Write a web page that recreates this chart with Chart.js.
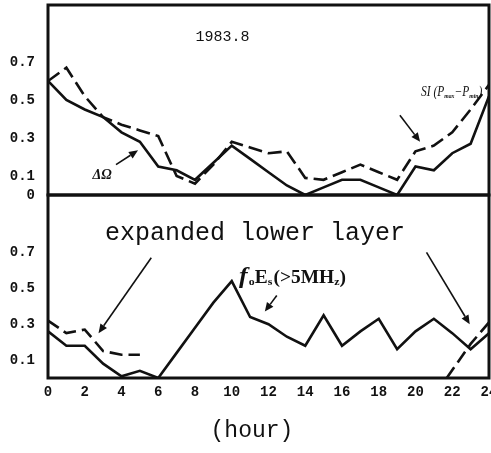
<!DOCTYPE html>
<html><head><meta charset="utf-8">
<script src="https://cdn.jsdelivr.net/npm/chart.js@4/dist/chart.umd.min.js"></script>
<style>
html,body{margin:0;padding:0;background:#fff;}
#wrap{position:relative;width:491px;height:453px;overflow:hidden;}
canvas{position:absolute;left:0;top:0;}
</style></head><body>
<div id="wrap"><canvas id="cTop" width="491" height="453"></canvas><canvas id="cBot" width="491" height="453"></canvas></div>
<script>
// ---- data ----
const hours = [0,1,2,3,4,5,6,7,8,9,10,11,12,13,14,15,16,17,18,19,20,21,22,23,24];
const deltaOmega = [0.60,0.50,0.45,0.41,0.33,0.28,0.15,0.13,0.08,0.17,0.26,0.19,0.12,0.05,0.00,0.04,0.08,0.08,0.04,0.00,0.15,0.13,0.22,0.27,0.52];
const siPmaxPmin = [0.60,0.67,0.52,0.41,0.37,0.34,0.31,0.10,0.06,0.16,0.28,0.25,0.22,0.23,0.09,0.08,0.12,0.16,0.12,0.08,0.23,0.26,0.33,0.45,0.58];
const foEs = [0.26,0.18,0.18,0.08,0.01,0.04,0.00,0.14,0.28,0.42,0.54,0.34,0.30,0.23,0.18,0.35,0.18,0.26,0.33,0.16,0.26,0.33,0.25,0.16,0.25];
const lowerLeftHours = [0,1,2,3,4,5];
const lowerLeftVals = [0.32,0.25,0.27,0.15,0.13,0.13];
const lowerRightHours = [21.7,23,24];
const lowerRightVals = [0.00,0.19,0.31];
const xTickValues = [0,2,4,6,8,10,12,14,16,18,20,22,24];
const topYTicks = [0,0.1,0.3,0.5,0.7];
const botYTicks = [0.1,0.3,0.5,0.7];

const pts = (xs, ys) => xs.map((x,i)=>({x:x, y:ys[i]}));
const INK = '#111';

function fixY(s){ s.width = 48; s.paddingTop = 0; s.paddingBottom = 0; }
function fixXTop(s){ s.height = 0; s.paddingLeft = 0; s.paddingRight = 0; }
function fixXBot(s){ s.height = 75; s.paddingLeft = 0; s.paddingRight = 0; }

const frame = {
  id:'frame',
  afterDraw(chart){
    const {ctx, chartArea:a} = chart;
    ctx.save(); ctx.strokeStyle = INK; ctx.lineWidth = 3;
    ctx.strokeRect(a.left, a.top, a.right-a.left, a.bottom-a.top);
    ctx.restore();
  }
};

function arrow(ctx, x1,y1,x2,y2){
  ctx.save(); ctx.strokeStyle=INK; ctx.fillStyle=INK; ctx.lineWidth=1.6;
  const ang=Math.atan2(y2-y1,x2-x1), L=9, W=4;
  const bx=x2-L*Math.cos(ang), by=y2-L*Math.sin(ang);
  ctx.beginPath(); ctx.moveTo(x1,y1); ctx.lineTo(bx,by); ctx.stroke();
  ctx.beginPath(); ctx.moveTo(x2,y2);
  ctx.lineTo(bx+W*Math.sin(ang), by-W*Math.cos(ang));
  ctx.lineTo(bx-W*Math.sin(ang), by+W*Math.cos(ang));
  ctx.closePath(); ctx.fill(); ctx.restore();
}
function seq(ctx, x, y, parts, sx){
  sx = sx || 1;
  ctx.save(); ctx.translate(x, y); ctx.scale(sx, 1);
  let cx = 0;
  for (const p of parts){
    ctx.font = p.f;
    ctx.fillText(p.t, cx, (p.dy||0));
    cx += ctx.measureText(p.t).width + (p.sp||0);
  }
  ctx.restore();
}

const topNotes = {
  id:'topNotes',
  afterDraw(chart){
    const {ctx} = chart, X = v=>chart.scales.x.getPixelForValue(v), Y = v=>chart.scales.y.getPixelForValue(v);
    ctx.save(); ctx.fillStyle = INK;
    ctx.textAlign='center'; ctx.textBaseline='middle';
    ctx.font = '15px "Liberation Mono"';
    ctx.fillText('1983.8', X(9.5), Y(0.83));
    ctx.font = 'italic bold 14px "Liberation Serif"';
    ctx.fillText('ΔΩ', X(2.95), Y(0.105));
    arrow(ctx, X(3.7), Y(0.16), X(4.9), Y(0.235));
    ctx.textAlign='left'; ctx.textBaseline='alphabetic';
    seq(ctx, X(20.3), Y(0.52), [
      {t:'SI (P', f:'italic 14px "Liberation Serif"'},
      {t:'max', f:'italic bold 7px "Liberation Serif"', dy:2},
      {t:'−P', f:'italic 14px "Liberation Serif"'},
      {t:'min', f:'italic bold 7px "Liberation Serif"', dy:2},
      {t:')', f:'italic 14px "Liberation Serif"'}
    ], 0.82);
    arrow(ctx, X(19.15), Y(0.42), X(20.25), Y(0.28));
    ctx.restore();
  }
};

const botNotes = {
  id:'botNotes',
  afterDraw(chart){
    const {ctx} = chart, X = v=>chart.scales.x.getPixelForValue(v), Y = v=>chart.scales.y.getPixelForValue(v);
    ctx.save(); ctx.fillStyle = INK;
    ctx.textAlign='left'; ctx.textBaseline='alphabetic';
    ctx.font = '25px "Liberation Mono"';
    ctx.fillText('expanded lower layer', X(3.1), Y(0.77));
    arrow(ctx, X(5.62), Y(0.67), X(2.75), Y(0.25));
    arrow(ctx, X(20.6), Y(0.70), X(22.95), Y(0.30));
    seq(ctx, X(10.4), Y(0.53), [
      {t:'f', f:'italic bold 24px "Liberation Serif"', sp:1},
      {t:'o', f:'bold 11px "Liberation Serif"', dy:2},
      {t:'E', f:'bold 18px "Liberation Serif"'},
      {t:'s', f:'bold 11px "Liberation Serif"', dy:2, sp:1},
      {t:'(>5MH', f:'bold 18px "Liberation Serif"'},
      {t:'z', f:'bold 11px "Liberation Serif"', dy:2},
      {t:')', f:'bold 18px "Liberation Serif"'}
    ], 1.08);
    arrow(ctx, X(12.45), Y(0.46), X(11.8), Y(0.37));
    ctx.textAlign='center'; ctx.textBaseline='middle';
    ctx.font = '23px "Liberation Mono"';
    ctx.fillText('(hour)', X(11.1), Y(-0.295));
    ctx.restore();
  }
};

const tickFont = {family:'"Liberation Mono"', size:14, weight:'bold'};
const yFmt = v => v===0 ? '0' : v.toFixed(1);
const lineDs = (data, dash) => ({data, borderColor:INK, borderWidth:2.6, borderDash:dash, pointRadius:0, tension:0, fill:false});

Chart.defaults.animation = false;

new Chart(document.getElementById('cTop'), {
  type:'line',
  data:{datasets:[ lineDs(pts(hours, deltaOmega), []), lineDs(pts(hours, siPmaxPmin), [14,6]) ]},
  options:{
    responsive:false, animation:false,
    layout:{padding:{top:5,right:2,left:0,bottom:258}},
    plugins:{legend:{display:false}, tooltip:{enabled:false}},
    scales:{
      x:{type:'linear', min:0, max:24, afterBuildTicks:s=>{s.ticks=xTickValues.map(v=>({value:v}));},
         ticks:{display:false}, grid:{display:false}, border:{display:false}, afterFit:fixXTop},
      y:{min:0, max:1.0, afterBuildTicks:s=>{s.ticks=topYTicks.map(v=>({value:v}));},
         ticks:{font:tickFont, color:INK, padding:5, callback:yFmt}, grid:{display:false}, border:{display:false}, afterFit:fixY}
    }
  },
  plugins:[frame, topNotes]
});

new Chart(document.getElementById('cBot'), {
  type:'line',
  data:{datasets:[ lineDs(pts(hours, foEs), []), lineDs(pts(lowerLeftHours, lowerLeftVals), [13,6]), lineDs(pts(lowerRightHours, lowerRightVals), [13,6]) ]},
  options:{
    responsive:false, animation:false,
    layout:{padding:{top:195,right:2,left:0,bottom:0}},
    plugins:{legend:{display:false}, tooltip:{enabled:false}},
    scales:{
      x:{type:'linear', min:0, max:24, afterBuildTicks:s=>{s.ticks=xTickValues.map(v=>({value:v}));},
         ticks:{font:tickFont, color:INK, padding:6, maxRotation:0, autoSkip:false}, grid:{display:false, drawTicks:false}, border:{display:false}, afterFit:fixXBot},
      y:{min:0, max:1.02, afterBuildTicks:s=>{s.ticks=botYTicks.map(v=>({value:v}));},
         ticks:{font:tickFont, color:INK, padding:5, callback:yFmt}, grid:{display:false}, border:{display:false}, afterFit:fixY}
    }
  },
  plugins:[frame, botNotes]
});
</script>
</body></html>
